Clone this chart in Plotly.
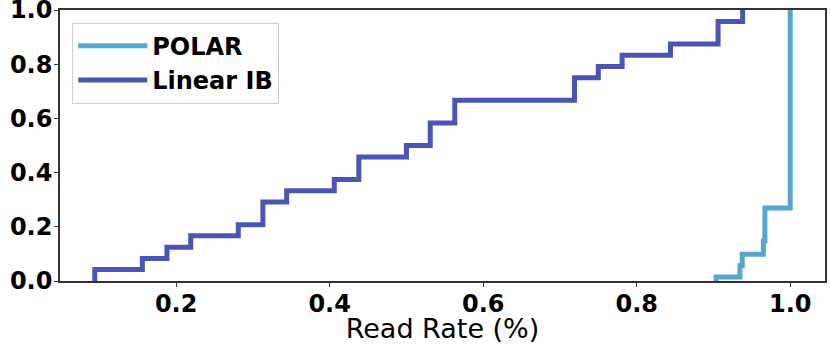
import plotly.graph_objects as go

# 读取速率 CDF
linear_x = [0.094, 0.156, 0.188, 0.219, 0.281, 0.313, 0.344, 0.406, 0.438,
            0.500, 0.531, 0.563, 0.719, 0.750, 0.781, 0.844, 0.906, 0.938]
linear_cdf = [0.042, 0.083, 0.125, 0.167, 0.208, 0.292, 0.333, 0.375, 0.458,
              0.500, 0.583, 0.667, 0.750, 0.792, 0.833, 0.875, 0.958, 1.000]

polar_x = [0.9035, 0.9345, 0.9375, 0.965, 0.967, 1.000]
polar_cdf = [0.015, 0.056, 0.099, 0.148, 0.269, 1.000]

x_ticks = [0.2, 0.4, 0.6, 0.8, 1.0]
y_ticks = [0.0, 0.2, 0.4, 0.6, 0.8, 1.0]

FONT = "DejaVu Sans"
POLAR_COLOR = "#56a6d1"
LINEAR_COLOR = "#4a55b5"


def step_trace(xs, ys, name, color):
    # 从 0 开始的阶梯线
    return go.Scatter(
        x=[xs[0]] + xs,
        y=[0] + ys,
        mode="lines",
        line=dict(color=color, width=5, shape="hv"),
        name=name,
    )


fig = go.Figure()
fig.add_trace(step_trace(polar_x, polar_cdf, "POLAR", POLAR_COLOR))
fig.add_trace(step_trace(linear_x, linear_cdf, "Linear IB", LINEAR_COLOR))

axis_common = dict(
    showgrid=False,
    zeroline=False,
    showline=True,
    linecolor="#333",
    linewidth=1.5,
    mirror=True,
    ticks="outside",
    ticklen=4,
    tickwidth=1,
    tickcolor="#333",
    automargin=False,
    ticklabeloverflow="allow",
    tickfont=dict(family=FONT, size=24, color="black", weight="bold"),
)

fig.update_layout(
    width=830,
    height=344,
    plot_bgcolor="white",
    paper_bgcolor="white",
    margin=dict(l=60, r=5, t=10, b=63),
    xaxis=dict(
        range=[0.0487, 1.0453],
        tickvals=x_ticks,
        ticktext=[f"{v:.1f}" for v in x_ticks],
        ticklabelstandoff=-4,
        title=dict(text="Read Rate (%)", font=dict(family=FONT, size=27, color="black")),
        **axis_common,
    ),
    yaxis=dict(
        range=[0, 1.0001],
        tickvals=y_ticks,
        ticktext=[f"{v:.1f}" for v in y_ticks],
        ticklabelstandoff=-3,
        **axis_common,
    ),
    legend=dict(
        x=0.016,
        y=0.953,
        xanchor="left",
        yanchor="top",
        bgcolor="rgba(255,255,255,0.8)",
        bordercolor="#d0d0d0",
        borderwidth=1,
        font=dict(family=FONT, size=24, color="black", weight="bold"),
        itemwidth=69,
        tracegroupgap=0,
    ),
    showlegend=True,
)

# 去掉页面默认边距，让图从左上角开始
fig.write_html(
    "out.html",
    config={"displayModeBar": False},
    post_script="document.body.style.margin='0';",
)
